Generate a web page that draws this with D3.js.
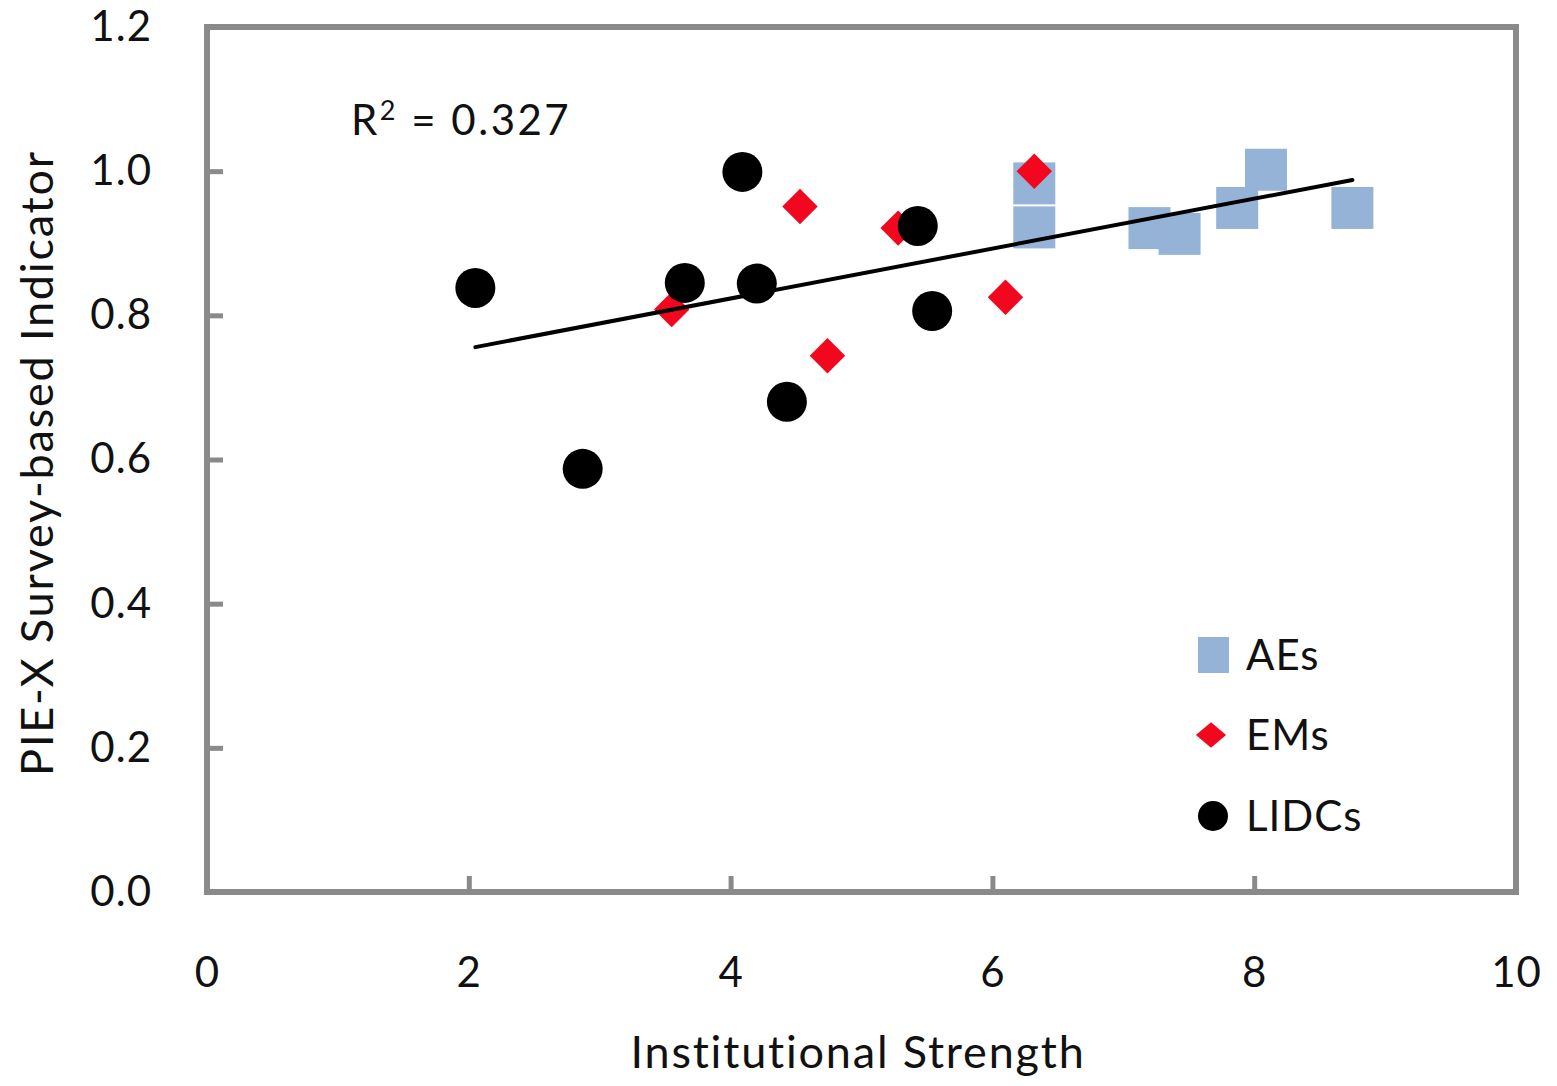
<!DOCTYPE html>
<html>
<head>
<meta charset="utf-8">
<script src="https://cdn.jsdelivr.net/npm/d3@7"></script>
<style>
  html, body { margin: 0; padding: 0; background: #ffffff; }
  svg text { font-family: Lato, "Open Sans", sans-serif; fill: #111; }
</style>
</head>
<body>
<svg id="chart" width="1557" height="1086"></svg>
<script>
// Advanced economies
const aeX = [6.32, 6.32, 7.20, 7.43, 7.87, 8.09, 8.75];
const aeY = [0.983, 0.922, 0.921, 0.913, 0.949, 1.002, 0.949];
// Emerging markets
const emX = [6.32, 4.53, 5.28, 3.55, 4.74, 6.10];
const emY = [1.000, 0.951, 0.921, 0.808, 0.744, 0.825];
// Low-income developing countries
const lidcX = [2.05, 4.09, 3.65, 4.20, 5.43, 5.54, 4.43, 2.87];
const lidcY = [0.838, 0.999, 0.845, 0.844, 0.924, 0.806, 0.680, 0.587];
// Linear trend (intercept, slope) and its fit statistic
const trendCoef = [0.685, 0.0346];
const rSquared = "0.327";
// Axis ticks
const xTicks = [0, 2, 4, 6, 8, 10];
const yTicks = [0.0, 0.2, 0.4, 0.6, 0.8, 1.0, 1.2];
const seriesNames = ["AEs", "EMs", "LIDCs"];

const svg = d3.select("#chart");
const plot = { left: 207, right: 1516, top: 27, bottom: 892 };

const x = d3.scaleLinear().domain([0, 10]).range([plot.left, plot.right]);
const y = d3.scaleLinear().domain([0, 1.2]).range([plot.bottom, plot.top]);

const frameColor = "#8a8a8a";
const aeColor = "#95b3d7";
const emColor = "#f2071e";
const lidcColor = "#000000";

// Axes with inward ticks
const xAxis = d3.axisBottom(x).tickValues(xTicks).tickSizeInner(-16).tickSizeOuter(0)
  .tickFormat(d3.format("d")).tickPadding(65);
const yAxis = d3.axisLeft(y).tickValues(yTicks).tickSizeInner(-16).tickSizeOuter(0)
  .tickFormat(d3.format(".1f")).tickPadding(55);

const gx = svg.append("g").attr("transform", `translate(0,${plot.bottom})`).call(xAxis);
const gy = svg.append("g").attr("transform", `translate(${plot.left},0)`).call(yAxis);
[gx, gy].forEach(g => {
  g.select(".domain").remove();
  g.selectAll(".tick line").attr("stroke", frameColor).attr("stroke-width", 5);
  g.selectAll(".tick text").style("font-size", "42px").style("letter-spacing", "1px").attr("fill", "#111");
});
gx.selectAll(".tick text").attr("dy", "0.71em");

// Plot frame
svg.append("rect")
  .attr("x", plot.left).attr("y", plot.top)
  .attr("width", plot.right - plot.left).attr("height", plot.bottom - plot.top)
  .attr("fill", "none").attr("stroke", frameColor).attr("stroke-width", 6);

const zip = (xs, ys) => xs.map((v, i) => ({ x: v, y: ys[i] }));

// AEs: squares
const sq = 42;
svg.append("g").selectAll("rect").data(zip(aeX, aeY)).join("rect")
  .attr("x", d => x(d.x) - sq / 2).attr("y", d => y(d.y) - sq / 2)
  .attr("width", sq).attr("height", sq).attr("fill", aeColor);

// EMs: diamonds
const diamond = d3.symbol().type(d3.symbolDiamond2).size(800);
svg.append("g").selectAll("path").data(zip(emX, emY)).join("path")
  .attr("d", diamond)
  .attr("transform", d => `translate(${x(d.x)},${y(d.y)})`)
  .attr("fill", emColor);

// LIDCs: circles
svg.append("g").selectAll("circle").data(zip(lidcX, lidcY)).join("circle")
  .attr("cx", d => x(d.x)).attr("cy", d => y(d.y)).attr("r", 20)
  .attr("fill", lidcColor);

// Trend line across the range of the data
const allX = aeX.concat(emX, lidcX);
const [xMin, xMax] = d3.extent(allX);
const fit = v => trendCoef[0] + trendCoef[1] * v;
svg.append("line")
  .attr("x1", x(xMin)).attr("y1", y(fit(xMin)))
  .attr("x2", x(xMax)).attr("y2", y(fit(xMax)))
  .attr("stroke", "#000").attr("stroke-width", 4).attr("stroke-linecap", "round");

// R-squared label
const r2 = svg.append("text").attr("x", 351).attr("y", 135)
  .style("font-size", "42px").style("letter-spacing", "2.5px");
r2.append("tspan").text("R");
r2.append("tspan").attr("dy", -15).style("font-size", "27px").text("2");
r2.append("tspan").attr("dy", 15).text(" = " + rSquared);

// Axis titles
svg.append("text")
  .attr("x", 858).attr("y", 1068)
  .attr("text-anchor", "middle").style("font-size", "45px").style("letter-spacing", "1.8px")
  .text("Institutional Strength");
svg.append("text")
  .attr("transform", `translate(53,463) rotate(-90)`)
  .attr("text-anchor", "middle").style("font-size", "45px").style("letter-spacing", "1.8px")
  .text("PIE-X Survey-based Indicator");

// Legend
const legend = svg.append("g");
const legendY = [655, 735, 816];
seriesNames.forEach((name, i) => {
  const cy = legendY[i];
  if (i === 0) {
    legend.append("rect").attr("x", 1198).attr("y", cy - 18).attr("width", 31).attr("height", 36).attr("fill", aeColor);
  } else if (i === 1) {
    legend.append("path").attr("d", d3.symbol().type(d3.symbolDiamond2).size(580))
      .attr("transform", `translate(1211,${cy}) scale(1,0.85)`).attr("fill", emColor);
  } else {
    legend.append("circle").attr("cx", 1213).attr("cy", cy).attr("r", 15).attr("fill", lidcColor);
  }
  legend.append("text").attr("x", 1246).attr("y", cy).attr("dy", "0.36em")
    .style("font-size", "42px").style("letter-spacing", "1px").text(name);
});
</script>
</body>
</html>
